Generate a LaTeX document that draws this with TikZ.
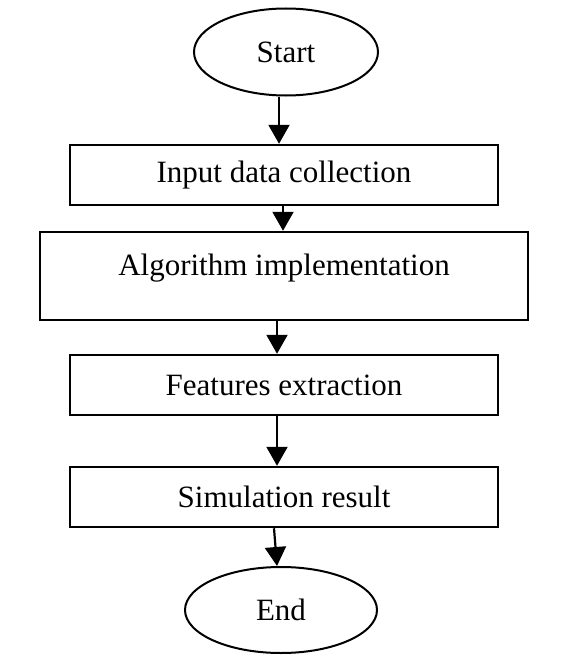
\documentclass[tikz,border=0pt]{standalone}
\usepackage{fontspec}
\setmainfont{Liberation Serif}
\usetikzlibrary{shapes.geometric,arrows.meta}

\tikzset{
  termnode/.style={draw, ellipse, line width=2pt, minimum width=184pt, minimum height=87pt, inner sep=0pt, font=\fontsize{31}{36}\selectfont},
  procbox/.style={draw, rectangle, line width=2.5pt, minimum width=428pt, minimum height=60pt, inner sep=0pt, font=\fontsize{31}{36}\selectfont},
  flowarrow/.style={line width=2.2pt, -{Triangle[width=21pt,length=19pt]}}
}

\begin{document}
\begin{tikzpicture}[x=1pt,y=-1pt]
%\draw[step=50pt,gray,very thin] (0,0) grid (569,669);
\useasboundingbox (0,0) rectangle (569,669);
\node[termnode] (start) at (286,52) {Start};
\node[procbox] (input) at (284,175) {Input data collection};
\node[procbox, minimum width=488pt, minimum height=88pt, text height=21pt, text depth=22pt] (algo) at (284,276) {Algorithm implementation};
\node[procbox] (feat) at (284,385) {Features extraction};
\node[procbox] (sim) at (284,497) {Simulation result};
\node[termnode, minimum width=192pt, minimum height=86pt] (end) at (281,610) {End};
\draw[flowarrow] ([xshift=-7pt]start.south) -- ([xshift=-7pt]start.south |- input.north);
\draw[flowarrow] ([xshift=-1pt]input.south) -- ([xshift=-1pt]input.south |- algo.north);
\draw[flowarrow] ([xshift=-7pt]algo.south) -- ([xshift=-7pt]algo.south |- feat.north);
\draw[flowarrow] ([xshift=-7pt]feat.south) -- ([xshift=-7pt]feat.south |- sim.north);
\draw[flowarrow] ([xshift=-10pt]sim.south) -- ([xshift=-4pt]end.north);
\end{tikzpicture}
\end{document}
